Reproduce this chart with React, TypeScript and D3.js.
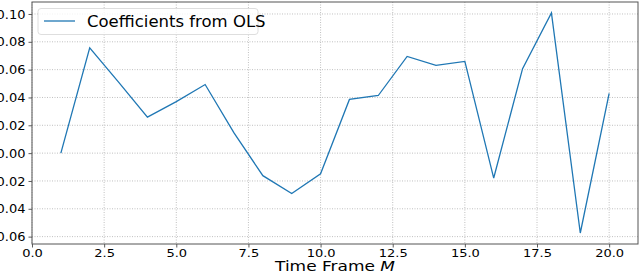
import React, { useEffect, useRef } from "react";
import * as d3 from "d3";

// time frames M = 1..20
const frames = [1, 2, 3, 4, 5, 6, 7, 8, 9, 10, 11, 12, 13, 14, 15, 16, 17, 18, 19, 20];
const coefficients = [
  0.0, 0.0757, 0.051, 0.0259, 0.037, 0.0493, 0.0145, -0.0162, -0.029, -0.0148,
  0.0386, 0.0414, 0.0695, 0.0631, 0.0659, -0.0179, 0.0607, 0.1007, -0.0574, 0.0429,
];
const xTicks = [0, 2.5, 5, 7.5, 10, 12.5, 15, 17.5, 20];
const yTicks = [-0.06, -0.04, -0.02, 0.0, 0.02, 0.04, 0.06, 0.08, 0.1];
const seriesName = "Coefficients from OLS";

const W = 640;
const H = 275;
const margin = { top: 2, right: 2, bottom: 31, left: 32 };

export default function App() {
  const ref = useRef<SVGSVGElement>(null);

  useEffect(() => {
    const svg = d3.select(ref.current);
    svg.selectAll("*").remove();

    const x = d3.scaleLinear().domain([0, 21]).range([margin.left, W - margin.right]);
    const lo = d3.min(coefficients)!;
    const hi = d3.max(coefficients)!;
    const pad = (hi - lo) * 0.05;
    const y = d3.scaleLinear().domain([lo - pad, hi + pad]).range([H - margin.bottom, margin.top]);

    const font = "DejaVu Sans";

    // ==========================
    // Grid
    // ==========================
    const grid = svg.append("g");
    grid.selectAll(".gx")
      .data(xTicks)
      .enter()
      .append("line")
      .attr("x1", d => x(d))
      .attr("x2", d => x(d))
      .attr("y1", margin.top)
      .attr("y2", H - margin.bottom)
      .attr("stroke", "#b0b0b0")
      .attr("stroke-width", 0.8)
      .attr("stroke-dasharray", "1,1.5");
    grid.selectAll(".gy")
      .data(yTicks)
      .enter()
      .append("line")
      .attr("x1", margin.left)
      .attr("x2", W - margin.right)
      .attr("y1", d => y(d))
      .attr("y2", d => y(d))
      .attr("stroke", "#b0b0b0")
      .attr("stroke-width", 0.8)
      .attr("stroke-dasharray", "1,1.5");

    // ==========================
    // Axes
    // ==========================
    const fmtX = d3.format(".1f");
    const fmtY = (v: number) => d3.format(".2f")(v).replace("-", "\u2212");

    const xAxis = svg.append("g")
      .attr("transform", `translate(0,${H - margin.bottom})`)
      .call(d3.axisBottom(x).tickValues(xTicks).tickFormat(d => fmtX(d as number)).tickSize(3.5).tickPadding(3));
    const yAxis = svg.append("g")
      .attr("transform", `translate(${margin.left},0)`)
      .call(d3.axisLeft(y).tickValues(yTicks).tickFormat(d => fmtY(d as number)).tickSize(3.5).tickPadding(3));

    [xAxis, yAxis].forEach(a => {
      a.select(".domain").remove();
      a.selectAll("line").attr("stroke", "#333").attr("stroke-width", 0.8);
      a.selectAll("text")
        .attr("font-family", font)
        .attr("font-size", 13)
        .attr("fill", "#000");
    });
    // the source image is a little squashed vertically
    xAxis.selectAll("text")
      .attr("y", 0)
      .attr("dy", null)
      .attr("transform", "translate(0,12.7) scale(1,0.85)");

    // ==========================
    // Line
    // ==========================
    const pts: [number, number][] = frames.map((f, i) => [f, coefficients[i]]);
    svg.append("path")
      .datum(pts)
      .attr("fill", "none")
      .attr("stroke", "#1f77b4")
      .attr("stroke-width", 1.3)
      .attr("d", d3.line<[number, number]>().x(d => x(d[0])).y(d => y(d[1])));

    // frame
    svg.append("rect")
      .attr("x", margin.left)
      .attr("y", margin.top)
      .attr("width", W - margin.left - margin.right)
      .attr("height", H - margin.top - margin.bottom)
      .attr("fill", "none")
      .attr("stroke", "#555")
      .attr("stroke-width", 1);

    // ==========================
    // Legend
    // ==========================
    const lg = svg.append("g");
    lg.append("rect")
      .attr("x", 38)
      .attr("y", 8.5)
      .attr("width", 220)
      .attr("height", 26)
      .attr("rx", 3)
      .attr("fill", "rgba(255,255,255,0.8)")
      .attr("stroke", "#d6d6d6")
      .attr("stroke-width", 0.8);
    lg.append("line")
      .attr("x1", 44)
      .attr("x2", 75)
      .attr("y1", 21)
      .attr("y2", 21)
      .attr("stroke", "#1f77b4")
      .attr("stroke-width", 1.3);
    lg.append("text")
      .attr("x", 87)
      .attr("y", 27)
      .attr("font-family", font)
      .attr("font-size", 16.5)
      .text(seriesName);

    // ==========================
    // X label
    // ==========================
    const xl = svg.append("text")
      .attr("transform", `translate(${(margin.left + W - margin.right) / 2},270.7) scale(1,0.82)`)
      .attr("text-anchor", "middle")
      .attr("font-family", font)
      .attr("font-size", 17);
    xl.append("tspan").text("Time Frame ");
    xl.append("tspan").attr("font-style", "italic").text("M");
  }, []);

  return (
    <svg
      ref={ref}
      width={W}
      height={H}
      style={{ position: "absolute", left: 0, top: 0, background: "#fff" }}
    />
  );
}
